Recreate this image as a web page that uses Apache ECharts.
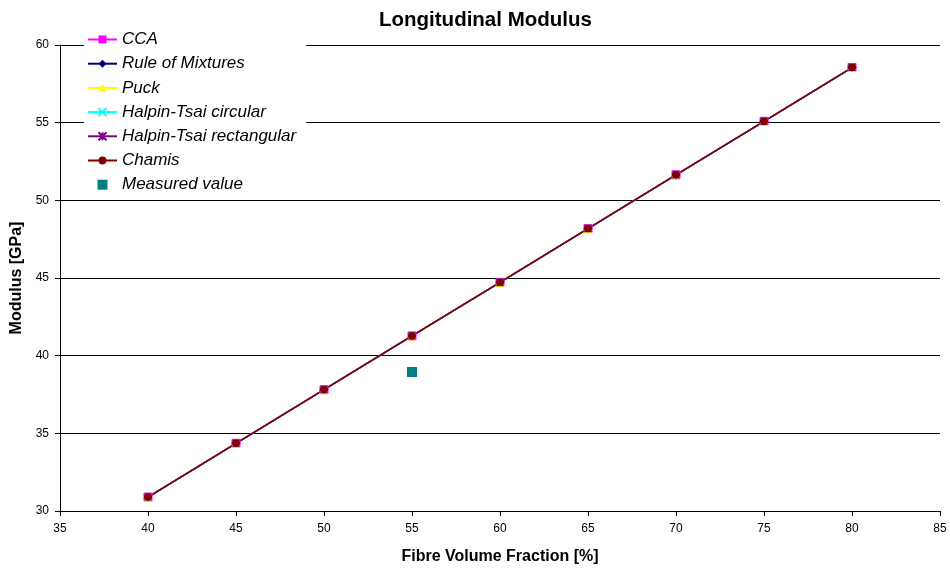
<!DOCTYPE html>
<html><head><meta charset="utf-8">
<script src="https://cdn.jsdelivr.net/npm/echarts@6/dist/echarts.min.js"></script>
<style>html,body{margin:0;padding:0;background:#fff}#c{width:950px;height:570px}</style>
</head><body><div id="c"></div>
<script>
const fibreFraction = [40, 45, 50, 55, 60, 65, 70, 75, 80];
const cca = [30.9, 34.36, 37.81, 41.27, 44.72, 48.18, 51.64, 55.09, 58.55];
const ruleOfMixtures = [30.9, 34.36, 37.81, 41.27, 44.72, 48.18, 51.64, 55.09, 58.55];
const puck = [30.9, 34.36, 37.81, 41.27, 44.72, 48.18, 51.64, 55.09, 58.55];
const halpinCircular = [30.9, 34.36, 37.81, 41.27, 44.72, 48.18, 51.64, 55.09, 58.55];
const halpinRect = [30.9, 34.36, 37.81, 41.27, 44.72, 48.18, 51.64, 55.09, 58.55];
const chamis = [30.9, 34.36, 37.81, 41.27, 44.72, 48.18, 51.64, 55.09, 58.55];
const measuredX = [55];
const measuredY = [38.95];

const FONT = 'Liberation Sans, Arial, sans-serif';
const crossPath = 'path://M0,0L10,10M10,0L0,10';
const starPath = 'path://M5,0L5,10M0,0L10,10M10,0L0,10';
const squarePath = 'path://M0,0L10,0L10,10L0,10Z';

function pairs(xs, ys){ return xs.map((x,i)=>[x, ys[i]]); }
function lineSeries(name, ys, color, symbol, size, extra){
  return Object.assign({
    name, type:'line', data: pairs(fibreFraction, ys),
    symbol, symbolSize: size,
    lineStyle:{color, width:1.5},
    itemStyle:{color, borderColor: color},
    emphasis:{disabled:true}, animation:false
  }, extra||{});
}
const chart = echarts.init(document.getElementById('c'));
chart.setOption({
  animation:false,
  backgroundColor:'#fff',
  title:{text:'Longitudinal Modulus', left:374, top:5,
    textStyle:{fontFamily:FONT, fontSize:20.5, fontWeight:'bold', color:'#000'}},
  grid:{left:60, right:10, top:45, bottom:58},
  legend:{
    orient:'vertical', left:84, top:31, backgroundColor:'#fff', padding:[0,10,4,3],
    itemWidth:29, itemHeight:10, itemGap:7.2,
    textStyle:{fontFamily:FONT, fontSize:17, fontStyle:'italic', color:'#000'},
    data:['CCA','Rule of Mixtures','Puck','Halpin-Tsai circular','Halpin-Tsai rectangular','Chamis',
      {name:'Measured value', icon: squarePath}]
  },
  xAxis:{type:'value', min:35, max:85, interval:5,
    name:'Fibre Volume Fraction [%]', nameLocation:'middle', nameGap:38,
    nameTextStyle:{fontFamily:FONT, fontSize:16, fontWeight:'bold', color:'#000'},
    axisLine:{lineStyle:{color:'#000'}}, axisTick:{lineStyle:{color:'#000'}, length:5},
    axisLabel:{color:'#000', fontFamily:FONT, fontSize:12, margin:12},
    splitLine:{show:false}},
  yAxis:{type:'value', min:30, max:60, interval:5,
    name:'Modulus [GPa]', nameLocation:'middle', nameGap:31,
    nameTextStyle:{fontFamily:FONT, fontSize:16, fontWeight:'bold', color:'#000'},
    axisLine:{show:true, lineStyle:{color:'#000'}}, axisTick:{show:true, lineStyle:{color:'#000'}, length:5},
    axisLabel:{color:'#000', fontFamily:FONT, fontSize:12, margin:11},
    splitLine:{show:true, lineStyle:{color:'#000', width:1}}},
  series:[
    lineSeries('CCA', cca, '#FF00FF', 'rect', 8),
    lineSeries('Rule of Mixtures', ruleOfMixtures, '#000080', 'diamond', 8),
    lineSeries('Puck', puck, '#FFFF00', 'triangle', 8),
    lineSeries('Halpin-Tsai circular', halpinCircular, '#00FFFF', crossPath, 7, {itemStyle:{color:'#00FFFF', borderColor:'#00FFFF', borderWidth:1.5}}),
    lineSeries('Halpin-Tsai rectangular', halpinRect, '#800080', starPath, 7, {itemStyle:{color:'#800080', borderColor:'#800080', borderWidth:1.5}}),
    lineSeries('Chamis', chamis, '#800000', 'circle', 7),
    {name:'Measured value', type:'scatter', data: pairs(measuredX, measuredY),
      symbol:'rect', symbolSize:10, itemStyle:{color:'#008080', opacity:1}, emphasis:{disabled:true}}
  ]
});
</script></body></html>
